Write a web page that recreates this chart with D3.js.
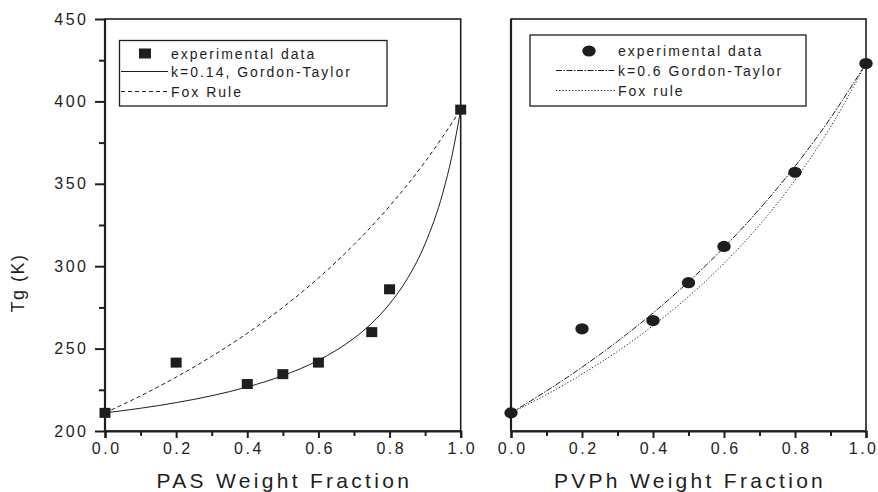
<!DOCTYPE html>
<html><head><meta charset="utf-8">
<script src="https://cdn.jsdelivr.net/npm/d3@7"></script>
<style>
body{margin:0;background:#fff;}
text{font-family:"Liberation Sans",Arial,sans-serif;fill:#1e1e1e;}
</style></head>
<body><svg id="c" width="878" height="492"></svg>
<script>
// Left panel: PAS
const pasX = [0, 0.2, 0.4, 0.5, 0.6, 0.75, 0.8, 1.0];
const pasTg = [211, 241.5, 228.5, 234.5, 241.5, 260, 286, 395];
const pasGTx = [0, 0.1, 0.2, 0.3, 0.4, 0.5, 0.6, 0.7, 0.75, 0.8, 0.85, 0.9, 0.95, 0.975, 1.0];
const pasGT = [211, 213.8, 217.2, 221.4, 226.7, 233.6, 242.9, 256.3, 265.4, 277.1, 292.4, 313.6, 344.7, 366.5, 395];
const pasFoxX = [0, 0.1, 0.2, 0.3, 0.4, 0.5, 0.6, 0.7, 0.8, 0.9, 1.0];
const pasFox = [211, 221.3, 232.7, 245.3, 259.3, 275, 292.8, 313.1, 336.4, 363.4, 395];
// Right panel: PVPh
const pvphX = [0, 0.2, 0.4, 0.5, 0.6, 0.8, 1.0];
const pvphTg = [211, 262, 267, 290, 312, 357, 423];
const pvphGTx = [0, 0.1, 0.2, 0.3, 0.4, 0.5, 0.6, 0.7, 0.8, 0.9, 1.0];
const pvphGT = [211, 224.3, 238.7, 254.4, 271.6, 290.5, 311.4, 334.7, 360.6, 389.9, 423];
const pvphFoxX = [0, 0.1, 0.2, 0.3, 0.4, 0.5, 0.6, 0.7, 0.8, 0.9, 1.0];
const pvphFox = [211, 222.1, 234.5, 248.3, 263.9, 281.6, 301.7, 325.0, 352.2, 384.4, 423];
// Ticks and labels
const xTicks = [0, 0.2, 0.4, 0.6, 0.8, 1.0];
const xMinor = [0.1, 0.3, 0.5, 0.7, 0.9];
const yTicks = [200, 250, 300, 350, 400, 450];
const yMinor = [225, 275, 325, 375, 425];
const yTitle = "Tg (K)";
const leftTitle = "PAS Weight Fraction";
const rightTitle = "PVPh Weight Fraction";
const leftLegend = ["experimental data", "k=0.14, Gordon-Taylor", "Fox Rule"];
const rightLegend = ["experimental data", "k=0.6 Gordon-Taylor", "Fox rule"];

const ink = "#1e1e1e";
const svg = d3.select("#c");
const y = d3.scaleLinear().domain([200, 450]).range([431, 19]);
const xL = d3.scaleLinear().domain([0, 1]).range([105, 460.7]);
const xR = d3.scaleLinear().domain([0, 1]).range([511, 866]);

function frame(x, title, withY) {
  const g = svg.append("g");
  g.append("rect").attr("x", x.range()[0]).attr("y", y(450))
    .attr("width", x.range()[1] - x.range()[0]).attr("height", y(200) - y(450))
    .attr("fill", "none").attr("stroke", ink).attr("stroke-width", 1.6);
  const ax = g.append("g").attr("transform", `translate(0,${y(200)})`)
    .call(d3.axisBottom(x).tickValues(xTicks).tickFormat(d3.format(".1f")).tickSize(7).tickPadding(5));
  ax.select(".domain").attr("stroke", ink).attr("stroke-width", 2.2);
  ax.selectAll(".tick line").attr("stroke", ink).attr("stroke-width", 2);
  ax.selectAll(".tick text").attr("font-size", 16).attr("letter-spacing", 2.5).attr("dx", 1.2)
    .attr("font-family", "Liberation Sans, Arial, sans-serif").attr("fill", ink);
  if (!withY) {
    ax.selectAll(".tick text").filter(d => d === 1).attr("text-anchor", "end").attr("x", 878 - x(1)).attr("dx", 0);
  }
  const axm = g.append("g").attr("transform", `translate(0,${y(200)})`)
    .call(d3.axisBottom(x).tickValues(xMinor).tickFormat("").tickSize(5));
  axm.select(".domain").remove();
  axm.selectAll(".tick line").attr("stroke", ink).attr("stroke-width", 2);
  g.append("line").attr("x1", x.range()[0]).attr("x2", x.range()[0]).attr("y1", y(450)).attr("y2", y(200))
    .attr("stroke", ink).attr("stroke-width", 2.2);
  if (withY) {
    const ay = g.append("g").attr("transform", `translate(${x.range()[0]},0)`)
      .call(d3.axisLeft(y).tickValues(yTicks).tickSize(10).tickPadding(9));
    ay.select(".domain").remove();
    ay.selectAll(".tick line").attr("stroke", ink).attr("stroke-width", 2);
    ay.selectAll(".tick text").attr("font-size", 16).attr("letter-spacing", 2.5).attr("dx", 2.5)
      .attr("font-family", "Liberation Sans, Arial, sans-serif").attr("fill", ink);
    const aym = g.append("g").attr("transform", `translate(${x.range()[0]},0)`)
      .call(d3.axisLeft(y).tickValues(yMinor).tickFormat("").tickSize(6));
    aym.select(".domain").remove();
    aym.selectAll(".tick line").attr("stroke", ink).attr("stroke-width", 2);
  }
  g.append("text").attr("x", (x.range()[0] + x.range()[1]) / 2 + 1.5).attr("y", 488)
    .attr("text-anchor", "middle").attr("font-size", 21).attr("letter-spacing", 3.3)
    .text(title);
}
frame(xL, leftTitle, true);
frame(xR, rightTitle, false);

svg.append("text").attr("transform", "translate(24,283) rotate(-90)")
  .attr("text-anchor", "middle").attr("font-size", 18).attr("letter-spacing", 1.5).text(yTitle);

function curve(x, xs, ys, dash, w) {
  svg.append("path").datum(xs.map((d, i) => [d, ys[i]]))
    .attr("d", d3.line().x(d => x(d[0])).y(d => y(d[1])).curve(d3.curveMonotoneX))
    .attr("fill", "none").attr("stroke", ink).attr("stroke-width", w || 1)
    .attr("stroke-dasharray", dash);
}
curve(xL, pasGTx, pasGT, null, 1);
curve(xL, pasFoxX, pasFox, "4,3", 1);
curve(xR, pvphGTx, pvphGT, "6,1.5,1.5,1.5", 1);
curve(xR, pvphFoxX, pvphFox, "1.2,2", 1);

svg.append("g").selectAll("rect").data(pasX.map((d, i) => [d, pasTg[i]])).join("rect")
  .attr("x", d => xL(d[0]) - 5.5).attr("y", d => y(d[1]) - 5).attr("width", 11).attr("height", 10)
  .attr("fill", ink);
svg.append("g").selectAll("ellipse").data(pvphX.map((d, i) => [d, pvphTg[i]])).join("ellipse")
  .attr("cx", d => xR(d[0])).attr("cy", d => y(d[1])).attr("rx", 6.7).attr("ry", 5.6)
  .attr("fill", ink);

function legend(x0, y0, x1, y1, rows, lineX0, lineX1, textX, markX, markerType, dashes, rowY) {
  const g = svg.append("g");
  g.append("rect").attr("x", x0).attr("y", y0).attr("width", x1 - x0).attr("height", y1 - y0)
    .attr("fill", "#fff").attr("stroke", ink).attr("stroke-width", 1.3);
  if (markerType === "square") {
    g.append("rect").attr("x", markX - 6).attr("y", rowY[0] - 5).attr("width", 12).attr("height", 10).attr("fill", ink);
  } else {
    g.append("ellipse").attr("cx", markX).attr("cy", rowY[0]).attr("rx", 6.7).attr("ry", 5.6).attr("fill", ink);
  }
  [1, 2].forEach(i => {
    g.append("line").attr("x1", lineX0).attr("x2", lineX1).attr("y1", rowY[i]).attr("y2", rowY[i])
      .attr("stroke", ink).attr("stroke-width", 1).attr("stroke-dasharray", dashes[i - 1]);
  });
  rows.forEach((t, i) => {
    g.append("text").attr("x", textX).attr("y", rowY[i] + 5).attr("font-size", 14)
      .attr("letter-spacing", 2).text(t);
  });
}
legend(119.5, 40.5, 387, 106, leftLegend, 121, 168, 171, 145, "square", [null, "4,3"], [53.5, 71.5, 91.5]);
legend(530, 35, 806, 106, rightLegend, 556, 615, 618, 589, "circle", ["6,1.5,1.5,1.5", "1.2,2"], [51, 70.5, 90.5]);
</script></body></html>
